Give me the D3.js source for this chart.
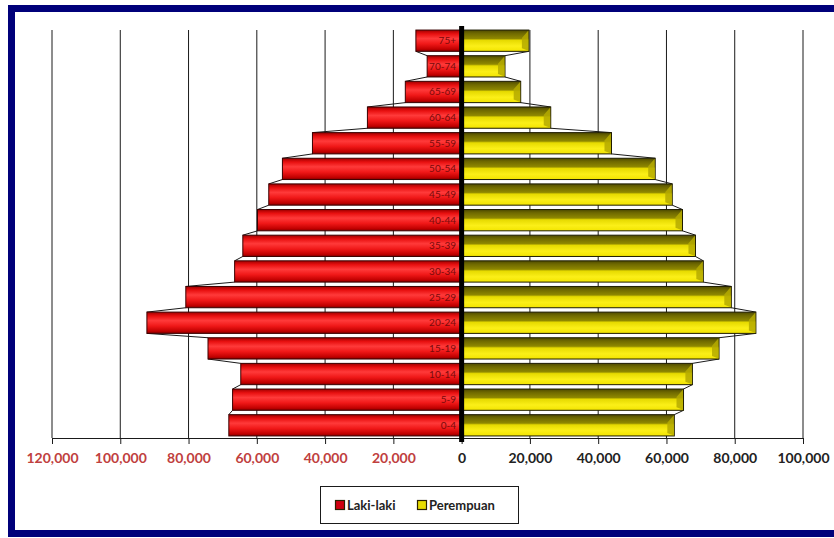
<!DOCTYPE html>
<html>
<head>
<meta charset="utf-8">
<script src="https://cdn.jsdelivr.net/npm/d3@7/dist/d3.min.js"></script>
<style>
  html, body { margin: 0; padding: 0; background: #ffffff; }
  svg { display: block; }
</style>
</head>
<body>
<script>
// Age groups, youngest first
const ageGroups = ["0-4","5-9","10-14","15-19","20-24","25-29","30-34","35-39",
                   "40-44","45-49","50-54","55-59","60-64","65-69","70-74","75+"];
// Population by sex for each age group
const maleValues   = [68200, 67100, 64700, 74300, 92200, 80800, 66500, 64100,
                      59800, 56500, 52500, 43700, 27600, 16500, 10100, 13400];
const femaleValues = [62300, 65000, 67600, 75400, 86200, 79000, 70800, 68500,
                      64700, 61700, 56700, 43900, 26100, 17300, 12700, 19700];
const tickValues = [-120000, -100000, -80000, -60000, -40000, -20000, 0,
                    20000, 40000, 60000, 80000, 100000];
const seriesNames = ["Laki-laki", "Perempuan"];

const W = 834, H = 538;
const svg = d3.select("body").append("svg").attr("width", W).attr("height", H);

const defs = svg.append("defs");
const redGrad = defs.append("linearGradient").attr("id", "redGrad")
  .attr("x1", 0).attr("y1", 0).attr("x2", 0).attr("y2", 1);
[[0, "#a00000"], [0.18, "#e81010"], [0.4, "#ff3a3a"], [0.65, "#f01818"], [0.9, "#c00000"], [1, "#800000"]]
  .forEach(([o, c]) => redGrad.append("stop").attr("offset", o).attr("stop-color", c));
const yelGrad = defs.append("linearGradient").attr("id", "yelGrad")
  .attr("x1", 0).attr("y1", 0).attr("x2", 0).attr("y2", 1);
[[0, "#4e4a00"], [0.15, "#6e6800"], [0.4, "#8f8800"], [0.48, "#e6da00"], [0.75, "#fbef18"], [1, "#f2e400"]]
  .forEach(([o, c]) => yelGrad.append("stop").attr("offset", o).attr("stop-color", c));

const x = d3.scaleLinear().domain([-120000, 100000]).range([52, 803]);
const y = d3.scaleBand().domain(ageGroups.slice().reverse())
  .range([28, 438]).paddingInner(0.17).paddingOuter(0.08);
const bh = y.bandwidth();

// vertical gridlines
svg.append("g").selectAll("line").data(tickValues.filter(v => v !== 0)).join("line")
  .attr("x1", d => x(d)).attr("x2", d => x(d))
  .attr("y1", 30).attr("y2", 438)
  .attr("stroke", "#1a1a1a").attr("stroke-width", 1);

// series lines joining neighbouring bar ends
function seriesLines(values, cls) {
  const pts = [];
  for (let i = ageGroups.length - 1; i > 0; i--) {
    const upper = ageGroups[i], lower = ageGroups[i - 1];
    pts.push({x1: x(values[i]), y1: y(upper) + bh, x2: x(values[i - 1]), y2: y(lower)});
  }
  svg.append("g").attr("class", cls).selectAll("line").data(pts).join("line")
    .attr("x1", d => d.x1).attr("y1", d => d.y1)
    .attr("x2", d => d.x2).attr("y2", d => d.y2)
    .attr("stroke", "#1a1a1a").attr("stroke-width", 1);
}
seriesLines(maleValues.map(v => -v), "male-lines");
seriesLines(femaleValues, "female-lines");

// male bars (drawn to the left of zero)
svg.append("g").selectAll("rect").data(ageGroups).join("rect")
  .attr("x", (d, i) => x(-maleValues[i]))
  .attr("y", d => y(d))
  .attr("width", (d, i) => x(0) - x(-maleValues[i]))
  .attr("height", bh)
  .attr("fill", "url(#redGrad)")
  .attr("stroke", "#3a0000").attr("stroke-width", 1);

// female bars with a bevelled end
const fg = svg.append("g");
fg.selectAll("rect").data(ageGroups).join("rect")
  .attr("x", x(0))
  .attr("y", d => y(d))
  .attr("width", (d, i) => x(femaleValues[i]) - x(0))
  .attr("height", bh)
  .attr("fill", "url(#yelGrad)")
  .attr("stroke", "#1e1c00").attr("stroke-width", 1);
fg.selectAll("path").data(ageGroups).join("path")
  .attr("d", (d, i) => {
    const xe = x(femaleValues[i]), yt = y(d);
    return `M${xe - 7},${yt + 8} L${xe - 0.5},${yt + 0.5} L${xe - 0.5},${yt + bh - 0.5} L${xe - 7},${yt + bh - 3} Z`;
  })
  .attr("fill", "#b5aa00").attr("opacity", 0.85);

// age group labels inside the male bars
svg.append("g").selectAll("text").data(ageGroups).join("text")
  .attr("x", 456).attr("y", d => y(d) + bh / 2)
  .attr("dy", "0.35em").attr("text-anchor", "end")
  .attr("font-family", "Lato, 'Liberation Sans', sans-serif")
  .attr("font-size", 10)
  .attr("fill", "#7a0a0a")
  .text(d => d);

// bottom axis
const axis = d3.axisBottom(x).tickValues(tickValues).tickSize(6).tickSizeOuter(0)
  .tickFormat(d => d3.format(",")(Math.abs(d)));
const ax = svg.append("g").attr("transform", "translate(0,438)").call(axis);
ax.select(".domain").attr("stroke", "#1a1a1a");
ax.selectAll(".tick line").attr("stroke", "#1a1a1a");
ax.selectAll(".tick text")
  .attr("y", 15)
  .attr("font-family", "Lato, 'Liberation Sans', sans-serif")
  .attr("font-size", 14).attr("font-weight", 700)
  .attr("fill", d => d < 0 ? "#c0403e" : "#222222");

// centre line at zero
svg.append("line")
  .attr("x1", x(0)).attr("x2", x(0)).attr("y1", 26).attr("y2", 442)
  .attr("stroke", "#000000").attr("stroke-width", 5);

// legend
const lg = svg.append("g");
lg.append("rect").attr("x", 320.5).attr("y", 486.5).attr("width", 198).attr("height", 37)
  .attr("fill", "#ffffff").attr("stroke", "#1a1a1a").attr("stroke-width", 1);
const legendItems = [
  {name: seriesNames[0], sx: 335, fill: "#d00010"},
  {name: seriesNames[1], sx: 417, fill: "#e8dc00"}
];
legendItems.forEach(it => {
  lg.append("rect").attr("x", it.sx + 0.5).attr("y", 500.5).attr("width", 9).attr("height", 9)
    .attr("fill", it.fill).attr("stroke", "#2a2000").attr("stroke-width", 1.2);
  lg.append("text").attr("x", it.sx + 12).attr("y", 505).attr("dy", "0.35em")
    .attr("font-family", "Lato, 'Liberation Sans', sans-serif")
    .attr("font-size", 13).attr("font-weight", 700).attr("fill", "#222222")
    .text(it.name);
});

// navy frame
svg.append("rect").attr("x", 11.5).attr("y", 8.5).attr("width", 840).attr("height", 525)
  .attr("fill", "none").attr("stroke", "#00007a").attr("stroke-width", 7);
</script>
</body>
</html>
